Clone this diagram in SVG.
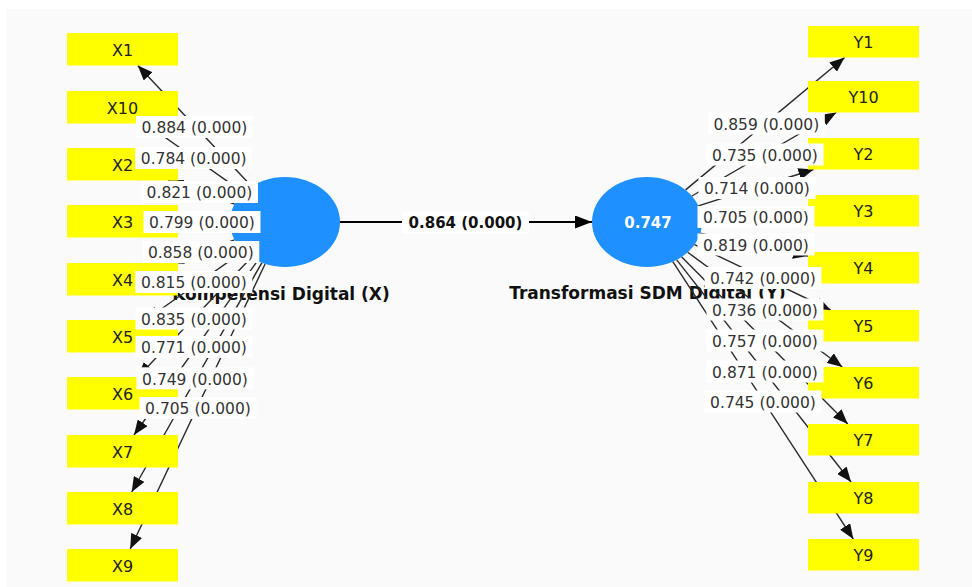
<svg xmlns="http://www.w3.org/2000/svg" width="972" height="587" viewBox="0 0 972 587">
  <defs>
    <marker id="arrow" markerUnits="userSpaceOnUse" markerWidth="16" markerHeight="12" refX="15" refY="6" orient="auto">
      <path d="M0,0 L15,6 L0,12 z" fill="#111"/>
    </marker>
    <marker id="arrowMain" markerUnits="userSpaceOnUse" markerWidth="18" markerHeight="13" refX="17" refY="6.5" orient="auto">
      <path d="M0,0 L17,6.5 L0,13 z" fill="#000"/>
    </marker>
    <style>
      .latent { fill: #1e90ff; }
      .ind rect { fill: #ffff00; }
      .ind text { font-family: "DejaVu Sans", sans-serif; font-size: 16px; fill: #222; text-anchor: middle; }
      .lname { font-family: "DejaVu Sans", sans-serif; font-size: 17px; font-weight: bold; fill: #111; text-anchor: middle; }
      .r2 { font-family: "DejaVu Sans", sans-serif; font-size: 15px; font-weight: bold; fill: #fff; text-anchor: middle; }
      .edge { stroke: #2a2a2a; stroke-width: 1.4; fill: none; marker-end: url(#arrow); }
      .main { stroke: #000; stroke-width: 2.2; fill: none; marker-end: url(#arrowMain); }
      .lbl rect { fill: #fff; }
      .lbl text { font-family: "DejaVu Sans", sans-serif; font-size: 15.5px; fill: #333; text-anchor: middle; }
      .lbl text.b { font-size: 15px; font-weight: bold; fill: #111; }
    </style>
  </defs>

  <!-- canvas -->
  <rect x="0" y="0" width="972" height="587" fill="#fff"/>
  <rect x="6" y="9" width="966" height="578" fill="#fafafa"/>

  <!-- latent constructs -->
  <g id="node-X">
    <ellipse class="latent" cx="285" cy="222" rx="55" ry="45"/>
    <text class="lname" x="281" y="300">Kompetensi Digital (X)</text>
  </g>
  <g id="node-Y">
    <ellipse class="latent" cx="647" cy="222" rx="55" ry="45"/>
    <text class="r2" x="648" y="227.5">0.747</text>
    <text class="lname" x="647.5" y="298.5">Transformasi SDM Digital (Y)</text>
  </g>

  <!-- connectors -->
  <g id="connectors">
    <line class="main" x1="340" y1="222" x2="592" y2="222"/>
    <!-- outer loadings of X -->
    <line class="edge" x1="251.5" y1="186.3" x2="137.8" y2="65.5"/>
    <line class="edge" x1="243.4" y1="192.6" x2="145.5" y2="123.5"/>
    <line class="edge" x1="234.6" y1="204.1" x2="168.2" y2="180.5"/>
    <line class="edge" x1="230" y1="221.7" x2="178" y2="221.5"/>
    <line class="edge" x1="234.5" y1="239.8" x2="168.6" y2="263"/>
    <line class="edge" x1="243.3" y1="251.3" x2="145.6" y2="320"/>
    <line class="edge" x1="251.3" y1="257.5" x2="137.9" y2="377"/>
    <line class="edge" x1="257.4" y1="260.9" x2="134" y2="435"/>
    <line class="edge" x1="261.8" y1="262.8" x2="131.7" y2="492"/>
    <line class="edge" x1="265.1" y1="264" x2="130.2" y2="549"/>
    <!-- outer loadings of Y -->
    <line class="edge" x1="685.6" y1="189.9" x2="844.6" y2="57.5"/>
    <line class="edge" x1="691.9" y1="196" x2="836.3" y2="112.5"/>
    <line class="edge" x1="698.3" y1="205.8" x2="813.5" y2="169.5"/>
    <line class="edge" x1="701.9" y1="219.1" x2="808" y2="213.6"/>
    <line class="edge" x1="700.3" y1="233.3" x2="808" y2="256"/>
    <line class="edge" x1="694.5" y1="244.7" x2="830.6" y2="310"/>
    <line class="edge" x1="687.7" y1="252.2" x2="842.3" y2="367"/>
    <line class="edge" x1="681.7" y1="256.9" x2="847.8" y2="424"/>
    <line class="edge" x1="676.7" y1="259.9" x2="851.1" y2="482"/>
    <line class="edge" x1="672.8" y1="261.7" x2="853.3" y2="539"/>
  </g>

  <!-- indicators of X -->
  <g id="X1" class="ind"><rect x="67" y="33" width="111" height="32.5"/><text x="122.5" y="55.5">X1</text></g>
  <g id="X10" class="ind"><rect x="67" y="91" width="111" height="32.5"/><text x="122.5" y="113.5">X10</text></g>
  <g id="X2" class="ind"><rect x="67" y="148" width="111" height="32.5"/><text x="122.5" y="170.5">X2</text></g>
  <g id="X3" class="ind"><rect x="67" y="205" width="111" height="32.5"/><text x="122.5" y="227.5">X3</text></g>
  <g id="X4" class="ind"><rect x="67" y="263" width="111" height="32.5"/><text x="122.5" y="285.5">X4</text></g>
  <g id="X5" class="ind"><rect x="67" y="320" width="111" height="32.5"/><text x="122.5" y="342.5">X5</text></g>
  <g id="X6" class="ind"><rect x="67" y="377" width="111" height="32.5"/><text x="122.5" y="399.5">X6</text></g>
  <g id="X7" class="ind"><rect x="67" y="435" width="111" height="32.5"/><text x="122.5" y="457.5">X7</text></g>
  <g id="X8" class="ind"><rect x="67" y="492" width="111" height="32.5"/><text x="122.5" y="514.5">X8</text></g>
  <g id="X9" class="ind"><rect x="67" y="549" width="111" height="32.5"/><text x="122.5" y="571.5">X9</text></g>

  <!-- indicators of Y -->
  <g id="Y1" class="ind"><rect x="808" y="26" width="111" height="31.5"/><text x="863.5" y="47.5">Y1</text></g>
  <g id="Y10" class="ind"><rect x="808" y="81" width="111" height="31.5"/><text x="863.5" y="102.5">Y10</text></g>
  <g id="Y2" class="ind"><rect x="808" y="138" width="111" height="31.5"/><text x="863.5" y="159.5">Y2</text></g>
  <g id="Y3" class="ind"><rect x="808" y="195" width="111" height="31.5"/><text x="863.5" y="216.5">Y3</text></g>
  <g id="Y4" class="ind"><rect x="808" y="252" width="111" height="31.5"/><text x="863.5" y="273.5">Y4</text></g>
  <g id="Y5" class="ind"><rect x="808" y="310" width="111" height="31.5"/><text x="863.5" y="331.5">Y5</text></g>
  <g id="Y6" class="ind"><rect x="808" y="367" width="111" height="31.5"/><text x="863.5" y="388.5">Y6</text></g>
  <g id="Y7" class="ind"><rect x="808" y="424" width="111" height="31.5"/><text x="863.5" y="445.5">Y7</text></g>
  <g id="Y8" class="ind"><rect x="808" y="482" width="111" height="31.5"/><text x="863.5" y="503.5">Y8</text></g>
  <g id="Y9" class="ind"><rect x="808" y="539" width="111" height="31.5"/><text x="863.5" y="560.5">Y9</text></g>

  <!-- path coefficient and loading labels -->
  <g id="edge-labels" class="lbl">
    <rect x="402" y="211.5" width="127" height="22"/><text class="b" x="465.5" y="228">0.864 (0.000)</text>

    <rect x="136" y="116" width="117" height="22"/><text x="194.5" y="133.2">0.884 (0.000)</text>
    <rect x="135.2" y="147" width="117" height="22"/><text x="193.7" y="164.2">0.784 (0.000)</text>
    <rect x="141" y="181" width="117" height="22"/><text x="199.5" y="198.2">0.821 (0.000)</text>
    <rect x="143.5" y="211" width="117" height="22"/><text x="202" y="228.2">0.799 (0.000)</text>
    <rect x="142.3" y="241" width="117" height="22"/><text x="200.8" y="258.2">0.858 (0.000)</text>
    <rect x="135.3" y="271" width="117" height="22"/><text x="193.8" y="288.2">0.815 (0.000)</text>
    <rect x="135.5" y="307.5" width="117" height="22"/><text x="194" y="324.7">0.835 (0.000)</text>
    <rect x="135.5" y="336" width="117" height="22"/><text x="194" y="353.2">0.771 (0.000)</text>
    <rect x="136.5" y="367.3" width="117" height="22"/><text x="195" y="384.5">0.749 (0.000)</text>
    <rect x="139.5" y="397" width="117" height="22"/><text x="198" y="414.2">0.705 (0.000)</text>

    <rect x="707.8" y="112.5" width="117" height="22"/><text x="766.3" y="129.7">0.859 (0.000)</text>
    <rect x="706.5" y="143.5" width="117" height="22"/><text x="765" y="160.7">0.735 (0.000)</text>
    <rect x="698.5" y="177" width="117" height="22"/><text x="757" y="194.2">0.714 (0.000)</text>
    <rect x="697.5" y="206" width="117" height="22"/><text x="756" y="223.2">0.705 (0.000)</text>
    <rect x="697.5" y="233.5" width="117" height="22"/><text x="756" y="250.7">0.819 (0.000)</text>
    <rect x="704.5" y="267" width="117" height="22"/><text x="763" y="284.2">0.742 (0.000)</text>
    <rect x="706.5" y="298.5" width="117" height="22"/><text x="765" y="315.7">0.736 (0.000)</text>
    <rect x="706.5" y="329.5" width="117" height="22"/><text x="765" y="346.7">0.757 (0.000)</text>
    <rect x="706.5" y="360.5" width="117" height="22"/><text x="765" y="377.7">0.871 (0.000)</text>
    <rect x="704.5" y="390.5" width="117" height="22"/><text x="763" y="407.7">0.745 (0.000)</text>
  </g>
</svg>
